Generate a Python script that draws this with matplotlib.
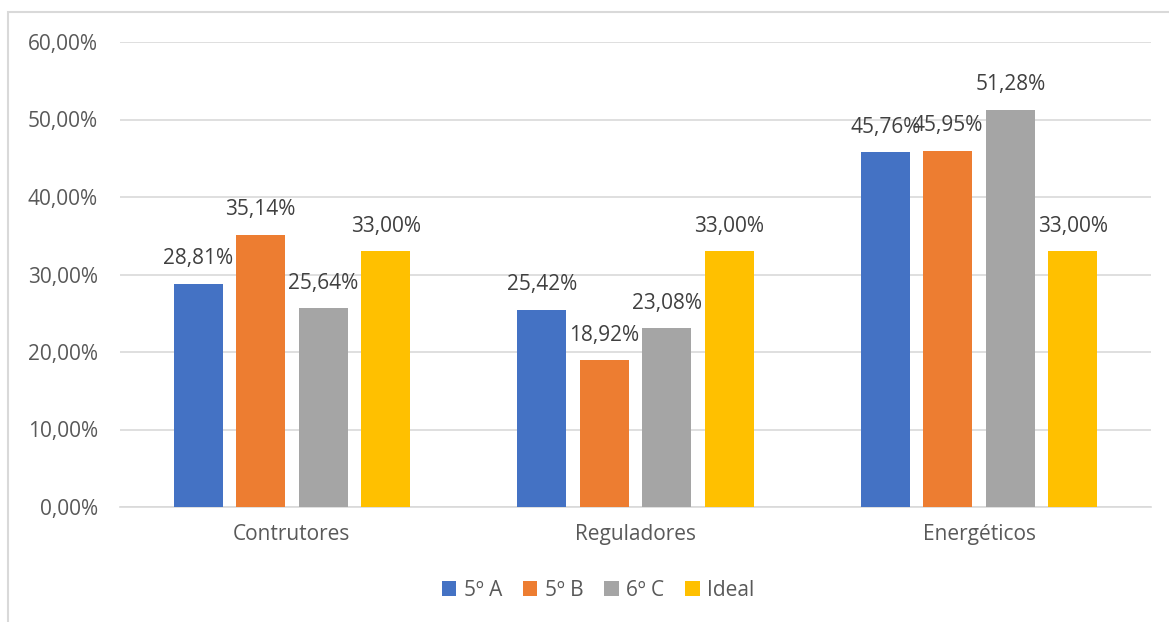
import matplotlib
matplotlib.use("Agg")
import matplotlib.pyplot as plt
from matplotlib.patches import Rectangle
from matplotlib.ticker import FuncFormatter
import numpy as np

categories = ["Contrutores", "Reguladores", "Energéticos"]
series_names = ["5º A", "5º B", "6º C", "Ideal"]
turma_5a = [28.81, 25.42, 45.76]
turma_5b = [35.14, 18.92, 45.95]
turma_6c = [25.64, 23.08, 51.28]
ideal = [33.00, 33.00, 33.00]
yticks = [0, 10, 20, 30, 40, 50, 60]

series = [turma_5a, turma_5b, turma_6c, ideal]
colors = ["#4472C4", "#ED7D31", "#A5A5A5", "#FFC000"]
text_color = "#595959"
grid_color = "#D9D9D9"

plt.rcParams["font.family"] = ["Open Sans", "DejaVu Sans"]
FS = 15

W, H = 1169, 622
fig = plt.figure(figsize=(W / 100, H / 100), dpi=100)
ax = fig.add_axes([120 / W, 1 - 507 / H, (1151 - 120) / W, (507 - 42) / H])

# outer chart-area frame
fig.patches.append(Rectangle((8 / W, -0.2), 2.0, 1.2 - 12 / H, transform=fig.transFigure,
                             fill=False, edgecolor=grid_color, linewidth=1.5))

x = np.arange(len(categories))
pitch = 0.182
width = 0.1426

def fmt(v):
    return f"{v:.2f}%".replace(".", ",")

for i, (vals, col, name) in enumerate(zip(series, colors, series_names)):
    pos = x + (i - 1.5) * pitch
    bars = ax.bar(pos, vals, width=width, color=col, label=name, zorder=3)
    for b, v in zip(bars, vals):
        ax.annotate(fmt(v), (b.get_x() + b.get_width() / 2, v), xytext=(0, 18),
                    textcoords="offset points", ha="center", va="center",
                    fontsize=FS, color="#404040", zorder=4)

ax.set_xlim(-0.5, 2.5)
ax.set_ylim(0, 60)
ax.set_yticks(yticks)
ax.yaxis.set_major_formatter(FuncFormatter(lambda v, p: fmt(v)))
ax.set_xticks(x)
ax.set_xticklabels(categories)
ax.tick_params(axis="both", length=0, labelsize=FS, labelcolor=text_color)
ax.tick_params(axis="y", pad=16)
ax.tick_params(axis="x", pad=12)
ax.grid(axis="y", color=grid_color, linewidth=1.2, zorder=0)
for s in ["top", "right", "left"]:
    ax.spines[s].set_visible(False)
ax.spines["bottom"].set_color(grid_color)
ax.spines["bottom"].set_linewidth(1.2)

leg = fig.legend(loc="center", bbox_to_anchor=(598 / W, 1 - 590 / H), ncol=4, frameon=False,
                 handlelength=0.7, handleheight=0.7, handletextpad=0.35, columnspacing=1.0,
                 fontsize=FS, labelcolor=text_color)

fig.savefig("out.png", dpi=100, facecolor="white")
